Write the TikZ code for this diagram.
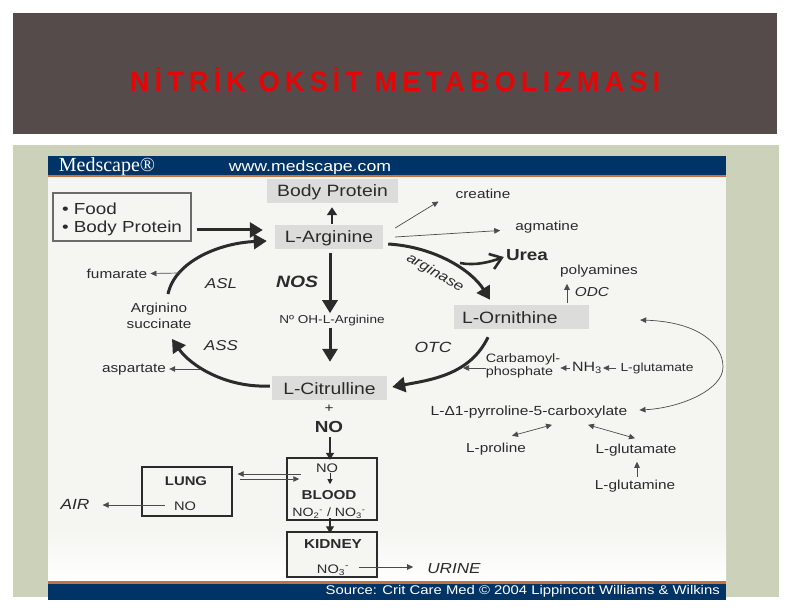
\documentclass[tikz,border=0pt]{standalone}
\usepackage{graphicx}
\usepackage{fontspec}
\setmainfont[FakeStretch=1.18]{Liberation Sans}
\newfontfamily\logofont{Liberation Serif}
\usetikzlibrary{arrows.meta,calc}
\definecolor{slate}{HTML}{554B4A}
\definecolor{sage}{HTML}{CCD1BA}
\definecolor{navy}{HTML}{003366}
\definecolor{rust}{HTML}{C9713A}
\definecolor{paper}{HTML}{F5F5F1}
\definecolor{ink}{HTML}{2B2B2B}
\definecolor{greybox}{HTML}{DCDCDA}
\definecolor{titlered}{HTML}{E40606}
\newcommand{\fs}[1]{\fontsize{#1}{#1}\selectfont}
\tikzset{
  lbl/.style={inner sep=0pt,text=ink,font=\fs{13}},
  grey/.style={fill=greybox,inner sep=0pt,text=ink,font=\fs{16.4},text height=12pt,text depth=0pt},
  organ/.style={draw=ink,line width=1.5pt,fill=paper,inner sep=0pt},
  heavy/.style={draw=ink,line width=3pt,-{Triangle[length=13pt,width=15pt]}},
  mid/.style={draw=ink,line width=1.2pt,-{Triangle[length=7pt,width=8pt]}},
  fine/.style={draw=ink!85,line width=.7pt,-{Triangle[length=6pt,width=5.5pt]}},
  finer/.style={draw=ink!85,line width=.7pt,{Triangle[length=6pt,width=5.5pt]}-{Triangle[length=6pt,width=5.5pt]}},
}
\begin{document}
\begin{tikzpicture}[x=1pt,y=-1pt]
\useasboundingbox (0,0) rectangle (792,612);
\fill[white] (0,0) rectangle (792,612);
\fill[slate] (13,13) rectangle (777,134);
\fill[sage] (13,145) rectangle (779,597);
\fill[paper] (48,156) rectangle (726,600);
\shade[top color=paper,bottom color=white] (48,530) rectangle (726,581);
\fill[navy] (48,156) rectangle (726,175);
\fill[rust] (48,175) rectangle (726,177.5);
\fill[rust] (48,581) rectangle (726,584);
\fill[navy] (48,584) rectangle (726,600);

\node[inner sep=0pt,text=titlered] (title) at (395,80)
  {\resizebox{530pt}{24pt}{\bfseries\addfontfeature{LetterSpace=22}NİTRİK OKSİT METABOLIZMASI}};
\node[inner sep=0pt,text=white,font=\logofont\fs{20}] (logo) at (107,167) {Medscape®};
\node[inner sep=0pt,text=white,font=\fs{15}] (web) at (310,167.5) {www.medscape.com};
\node[inner sep=0pt,text=white,font=\fs{12.6},anchor=east] (source) at (720,591.5) {Source: Crit Care Med © 2004 Lippincott Williams \& Wilkins};

% boxes
\node[draw=ink!70,line width=1.2pt,fill=paper,minimum width=138pt,minimum height=48pt,inner sep=0pt,font=\fontsize{16}{18.5}\selectfont,text=ink,align=left] (food) at (122,217) {\rule{0pt}{16pt}• Food\\• Body Protein};
\node[grey,minimum width=131pt,minimum height=24pt] (body) at (332.5,191) {Body Protein};
\node[grey,minimum width=108pt,minimum height=24pt] (arg) at (329,237) {L-Arginine};
\node[grey,minimum width=115pt,minimum height=24pt] (cit) at (329.5,388) {L-Citrulline};
\node[grey,minimum width=135pt,minimum height=24pt,text width=119pt,inner xsep=8pt,align=left] (orn) at (521.5,317) {L-Ornithine};

% labels
\node[lbl] (fum) at (117,273.5) {fumarate};
\node[lbl,align=center,font=\fontsize{13}{16}\selectfont] (succ) at (159,316) {Arginino\\succinate};
\node[lbl] (asp) at (134,370) {aspartate};
\node[lbl,font=\itshape\fs{14.3}] (asl) at (221,284) {ASL};
\node[lbl,font=\itshape\fs{14.3}] (ass) at (221,346) {ASS};
\node[lbl,font=\bfseries\itshape\fs{16.4}] (nos) at (297,282) {NOS};
\node[lbl,font=\fs{11.5}] (noh) at (332,320.5) {Nº OH-L-Arginine};
\node[lbl] (crea) at (483,193.5) {creatine};
\node[lbl] (agm) at (547,227.5) {agmatine};
\node[lbl,font=\bfseries\fs{16}] (urea) at (527,255) {Urea};
\node[lbl,font=\itshape\fs{14},rotate=-30] (ase) at (435,273) {arginase};
\node[lbl] (poly) at (599,271.5) {polyamines};
\node[lbl,font=\itshape\fs{13}] (odc) at (592,292) {ODC};
\node[lbl,font=\itshape\fs{14.8}] (otc) at (433,347) {OTC};
\node[lbl,align=left,font=\fontsize{12.2}{13}\selectfont] (carb) at (523,365.5) {Carbamoyl-\\phosphate};
\node[lbl,font=\fs{13.5}] (nh) at (587,368) {NH\textsubscript{3}};
\node[lbl,font=\fs{11.7}] (glu) at (657,368) {L-glutamate};
\node[lbl,font=\fs{13.2}] (pyr) at (529,412.5) {L-Δ1-pyrroline-5-carboxylate};
\node[lbl] (pro) at (496,449) {L-proline};
\node[lbl] (glub) at (636,450.5) {L-glutamate};
\node[lbl] (glun) at (635,486) {L-glutamine};
\node[lbl] (plus) at (329,409) {+};
\node[lbl,font=\bfseries\fs{16}] (no) at (329,427) {NO};

\node[organ,minimum width=90pt,minimum height=62pt] (blood) at (332,489) {};
\node[organ,minimum width=90pt,minimum height=45pt] (kidney) at (332,554.5) {};
\node[organ,line width=1.2pt,minimum width=90pt,minimum height=49pt] (lung) at (187,491.5) {};
\node[lbl,font=\fs{12.4}] (noblood) at (327,468) {NO};
\node[lbl,font=\bfseries\fs{12.9}] (bloodt) at (329,495) {BLOOD};
\node[lbl,font=\fs{12}] (nox) at (329,513.5) {NO\textsubscript{2}\textsuperscript{-} / NO\textsubscript{3}\textsuperscript{-}};
\node[lbl,font=\bfseries\fs{13}] (kidt) at (333,544) {KIDNEY};
\node[lbl,font=\fs{12.4}] (nok) at (333,570) {NO\textsubscript{3}\textsuperscript{-}};
\node[lbl,font=\bfseries\fs{12.6}] (lungt) at (186,481) {LUNG};
\node[lbl,font=\fs{12.4}] (nol) at (185,506) {NO};
\node[lbl,font=\itshape\fs{14.7}] (air) at (75,504) {AIR};
\node[lbl,font=\itshape\fs{14.5}] (uri) at (454,569) {URINE};

% heavy connectors
\draw[heavy] ($(food.east)+(5,13)$) -- ($(arg.west)+(-12,-7)$);
\draw[heavy,-{Triangle[length=8pt,width=10pt]},line width=2.4pt] ($(arg.north)+(3,-1)$) -- ($(body.south)+(-.5,4)$);
\draw[heavy] ($(arg.south)+(1,4)$) -- ($(arg.south)+(1,64)$);
\draw[heavy] ($(noh.center)+(-2,7)$) -- ($(cit.north)+(.5,-14)$);
\draw[heavy] (succ.north) ++(9,-9) .. controls +(7,-33) and (220,243) .. ($(arg.west)+(-8,4)$);
\draw[heavy] ($(cit.west)+(-2,-2)$) .. controls (225,388) and (190,365) .. ($(succ.south)+(13,10)$);
\draw[heavy] ($(arg.east)+(5,7)$) .. controls (436,247) and (472,271) .. ($(orn.north)+(-31.5,-5)$);
\draw[heavy] ($(orn.south)+(-33.5,8)$) .. controls (470,375) and (430,380) .. ($(cit.east)+(5,-1)$);
\draw[draw=ink,line width=2.6pt,-{Straight Barb[length=11pt,width=16pt,line width=2.6pt]}] (460,263) .. controls (475,266) and (490,262) .. ($(urea.west)+(-2,2)$);
\draw[mid] ($(no.south)+(1,4)$) -- ($(no.south)+(1,27)$);
\draw[mid] ($(nox.south)+(1,-1)$) -- ($(kidney.north)+(-2,2)$);
\draw[mid,line width=.9pt,-{Triangle[length=5pt,width=5pt]}] ($(noblood.south)+(3,0)$) -- ($(bloodt.north)+(1,-6)$);

% fine connectors
\draw[fine] ($(arg.east)+(12,-9)$) -- ($(crea.west)+(-17,8)$);
\draw[fine] ($(arg.east)+(12,0)$) -- ($(agm.west)+(-15,3)$);
\draw[fine,line width=1pt] ($(orn.north)+(45.5,-2)$) -- ($(poly.south)+(-32,6)$);
\draw[fine] ($(carb.west)+(0,2.5)$) -- (463,368);
\draw[fine] ($(nh.west)+(-2,0)$) -- ($(carb.east)+(0,2.5)$);
\draw[fine] ($(glu.west)+(-4,0)$) -- ($(nh.east)+(1,0)$);
\draw[fine] (180,273) -- ($(fum.east)+(3,0)$);
\draw[fine] (200,369) -- ($(asp.east)+(3,-1)$);
\draw[finer] ($(orn.east)+(51,3)$) .. controls (700,322) and (723,345) .. (723,367) .. controls (723,390) and (680,408) .. ($(pyr.east)+(12,-2.5)$);
\draw[finer] ($(pro.north)+(16,-7)$) -- ($(pyr.south)+(23,6)$);
\draw[finer] ($(pyr.south)+(59,6)$) -- ($(glub.north)+(-1,-6)$);
\draw[fine] ($(glun.north)+(2,-3)$) -- ($(glub.south)+(1,5)$);
\draw[fine] ($(blood.west)+(15,-15)$) -- ($(lung.east)+(5,-17.5)$);
\draw[fine] ($(lung.east)+(7,-12.5)$) -- ($(blood.west)+(13,-10)$);
\draw[fine] ($(nol.west)+(-9,-1)$) -- ($(air.east)+(13,1)$);
\draw[fine] ($(nok.east)+(10,-3)$) -- ($(uri.west)+(-14,-2)$);
\end{tikzpicture}
\end{document}
